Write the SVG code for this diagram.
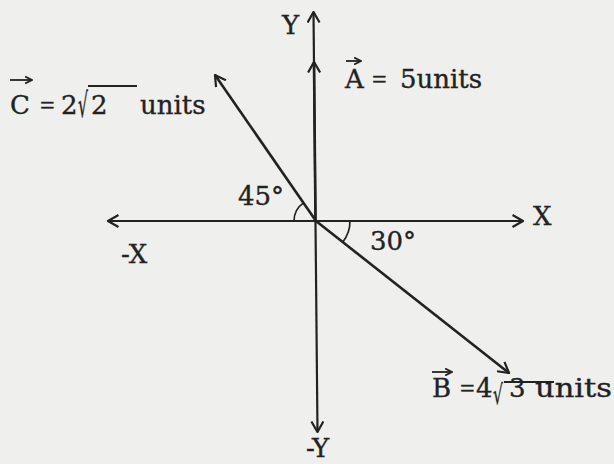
<svg xmlns="http://www.w3.org/2000/svg" width="614" height="464" viewBox="0 0 614 464">
<defs>
<style>
.t{font-family:"DejaVu Serif","Liberation Serif",serif;font-size:26px;fill:#222;stroke:#222;stroke-width:0.35}
.eq{font-family:"Liberation Serif","DejaVu Serif",serif}
.ax{stroke:#222;stroke-width:2.2;fill:none}
.vec{stroke:#222;stroke-width:2.6;fill:none}
.arc{stroke:#222;stroke-width:1.7;fill:none}
.bar{stroke:#222;stroke-width:1.8;fill:none}
</style>
<marker id="ah" viewBox="0 0 12 14" refX="11" refY="7" markerWidth="12" markerHeight="14" markerUnits="userSpaceOnUse" orient="auto-start-reverse">
<path d="M0.5,1 L11,7 L0.5,13" fill="none" stroke="#222" stroke-width="2.2"/>
</marker>
<marker id="sm" viewBox="0 0 8 8" refX="7.5" refY="4" markerWidth="8" markerHeight="8" markerUnits="userSpaceOnUse" orient="auto">
<path d="M0.5,0.5 L7.5,4 L0.5,7.5" fill="none" stroke="#222" stroke-width="1.8"/>
</marker>
</defs>
<rect width="614" height="464" fill="#efefed"/>

<g id="connectors">
<line id="y-axis" class="ax" x1="317.5" y1="432" x2="313.5" y2="12" marker-start="url(#ah)" marker-end="url(#ah)"/>
<line id="x-axis" class="ax" x1="108" y1="221" x2="523" y2="221" marker-start="url(#ah)" marker-end="url(#ah)"/>
<line id="vec-A" class="vec" x1="315.5" y1="221" x2="314" y2="62" marker-end="url(#ah)"/>
<line id="vec-B" class="vec" x1="316" y1="221" x2="509" y2="373" marker-end="url(#ah)"/>
<line id="vec-C" class="vec" x1="316" y1="221" x2="215" y2="75" marker-end="url(#ah)"/>
<path id="arc-45" class="arc" d="M303.5,202.9 A22,22 0 0 0 294,221"/>
<path id="arc-30" class="arc" d="M350,221 A34,34 0 0 1 342.8,242"/>
</g>

<g id="axis-labels">
<text class="t" x="282" y="34">Y</text>
<text class="t" x="306" y="457">-Y</text>
<text class="t" x="533" y="225">X</text>
<text class="t" x="121" y="263">-X</text>
</g>

<g id="angle-labels">
<text class="t" x="238" y="205">45°</text>
<text class="t" x="370" y="250">30°</text>
</g>

<g id="label-A">
<line class="bar" x1="346" y1="61" x2="361" y2="61" marker-end="url(#sm)"/>
<text class="t"><tspan x="345" y="88">A </tspan><tspan class="eq" x="372">= </tspan><tspan x="400">5units</tspan></text>
</g>

<g id="label-C">
<line class="bar" x1="10" y1="80" x2="32" y2="80" marker-end="url(#sm)"/>
<text class="t"><tspan x="10" y="114">C </tspan><tspan class="eq" x="40">= </tspan><tspan x="61">2</tspan></text>
<text class="t" transform="translate(78,117) scale(0.6,1.3)">√</text>
<text class="t"><tspan x="91" y="114">2 </tspan><tspan x="140">units</tspan></text>
<line class="bar" x1="88" y1="86" x2="137" y2="86"/>
</g>

<g id="label-B">
<line class="bar" x1="432" y1="372" x2="452" y2="372" marker-end="url(#sm)"/>
<text class="t"><tspan x="432" y="397">B </tspan><tspan class="eq" x="460">=</tspan><tspan x="476">4</tspan></text>
<text class="t" transform="translate(493,404) scale(0.6,1.05)">√</text>
<text class="t"><tspan x="509" y="397">3 </tspan><tspan x="535" textLength="77" lengthAdjust="spacingAndGlyphs">units</tspan></text>
<line class="bar" x1="504" y1="382" x2="554" y2="382"/>
</g>
</svg>
